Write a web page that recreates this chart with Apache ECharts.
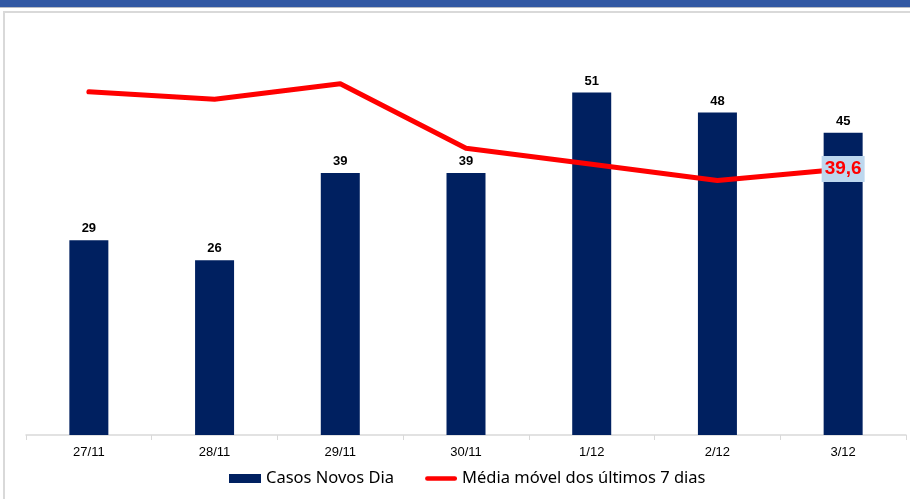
<!DOCTYPE html>
<html><head><meta charset="utf-8">
<script src="https://cdn.jsdelivr.net/npm/echarts@6/dist/echarts.min.js"></script>
<style>html,body{margin:0;padding:0;background:#fff}#c{width:910px;height:499px}</style>
</head><body><div id="c"></div>
<script>
const categories = ['27/11','28/11','29/11','30/11','1/12','2/12','3/12'];
const casosNovos = [29, 26, 39, 39, 51, 48, 45];
const mediaMovel = [51.1, 50.0, 52.3, 42.7, 40.3, 37.9, 39.6];

const chart = echarts.init(document.getElementById('c'));
chart.setOption({
  animation: false,
  graphic: [
    {type:'rect', shape:{x:0,y:0,width:910,height:7}, style:{fill:'#3158a3'}},
    {type:'rect', shape:{x:0,y:7,width:910,height:1}, style:{fill:'#b8bcc4'}},
    {type:'rect', shape:{x:4,y:12,width:1000,height:1000}, style:{fill:'none',stroke:'#d9d9d9',lineWidth:2}}
  ],
  grid: {left:26, right:4, top:32, bottom:64, containLabel:false},
  xAxis: {
    type:'category', data:categories,
    axisLine:{lineStyle:{color:'#d9d9d9', width:1.5}},
    axisTick:{show:true, length:5, lineStyle:{color:'#d9d9d9'}},
    axisLabel:{color:'#000', fontFamily:'Liberation Sans, Arial', fontSize:13, margin:11}
  },
  yAxis: {type:'value', min:0, max:60, show:false, splitLine:{show:false}},
  legend: {
    bottom:7, left:224, itemGap:31,
    textStyle:{fontFamily:'Noto Sans', fontSize:16.5, color:'#000'},
    data:[
      {name:'Casos Novos Dia', icon:'rect', itemStyle:{color:'#002060'}},
      {name:'Média móvel dos últimos 7 dias',
       icon:'path://M2.5,2 L32.5,2 A2.5,2.5 0 0 1 32.5,7 L2.5,7 A2.5,2.5 0 0 1 2.5,2 Z',
       itemStyle:{color:'#ff0000'}}
    ],
    itemWidth:32, itemHeight:9
  },
  series: [
    {
      name:'Casos Novos Dia', type:'bar', data:casosNovos, barWidth:39,
      itemStyle:{color:'#002060'},
      label:{show:true, position:'top', distance:5, color:'#000', fontWeight:'bold', fontFamily:'Liberation Sans, Arial', fontSize:13}
    },
    {
      name:'Média móvel dos últimos 7 dias', type:'line', data:mediaMovel,
      symbol:'none', showSymbol:false,
      lineStyle:{color:'#ff0000', width:5, cap:'round', join:'round'},
      itemStyle:{color:'#ff0000'},
      label:{show:false},
      markPoint:{
        symbol:'rect', symbolSize:1, itemStyle:{color:'rgba(0,0,0,0)'},
        data:[{coord:[6, mediaMovel[6]], value:mediaMovel[6]}],
        label:{show:true, position:'inside', formatter:p=>String(p.value).replace('.',','),
          color:'#ff0000', fontWeight:'bold', fontSize:19, fontFamily:'Liberation Sans, Arial',
          backgroundColor:'#bdd7ee', padding:[4,3,3,3]}
      }
    }
  ]
});
</script></body></html>
